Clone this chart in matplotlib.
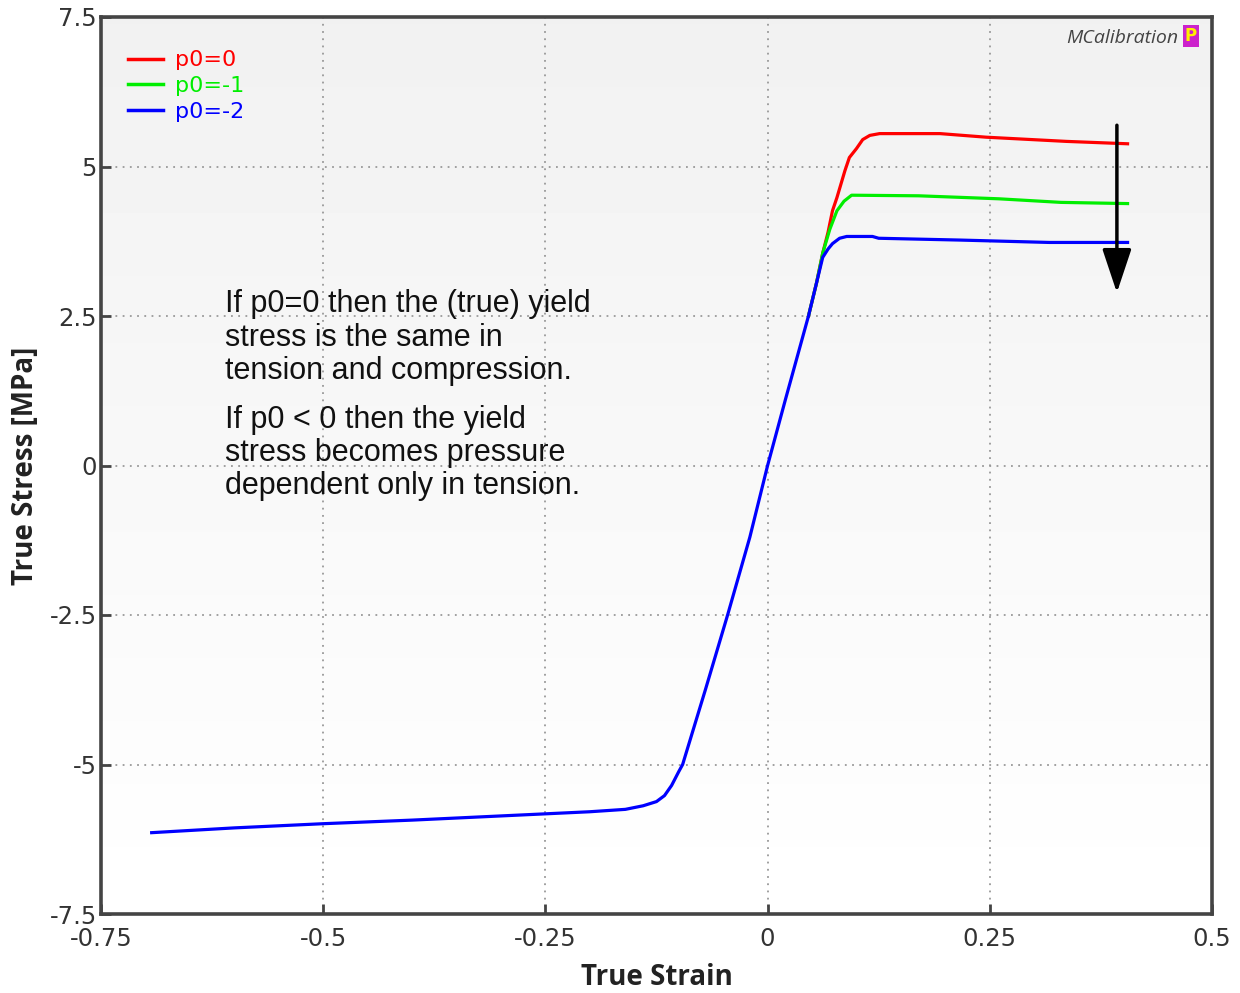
import numpy as np
import matplotlib
matplotlib.use('Agg')
import matplotlib.pyplot as plt

# curve data
strain_blue = [-0.693, -0.6, -0.5, -0.4, -0.3, -0.2, -0.16, -0.14, -0.125, -0.116,
               -0.108, -0.1, -0.0956, -0.07, -0.045, -0.02, 0.0, 0.02, 0.046, 0.055,
               0.062, 0.068, 0.073, 0.081, 0.089, 0.118, 0.125, 0.216, 0.317, 0.405]
stress_blue = [-6.14, -6.06, -5.99, -5.93, -5.86, -5.79, -5.75, -5.69, -5.62, -5.52,
               -5.35, -5.12, -5.0, -3.75, -2.5, -1.2, 0.0, 1.1, 2.5, 3.05,
               3.48, 3.62, 3.71, 3.80, 3.83, 3.83, 3.80, 3.77, 3.73, 3.73]

strain_green = [0.046, 0.055, 0.062, 0.070, 0.078, 0.086, 0.0945, 0.17, 0.26, 0.33, 0.405]
stress_green = [2.5, 3.05, 3.55, 3.95, 4.26, 4.42, 4.52, 4.51, 4.46, 4.40, 4.38]

strain_red = [0.046, 0.055, 0.062, 0.068, 0.073, 0.078, 0.087, 0.092, 0.1, 0.107,
              0.115, 0.126, 0.194, 0.246, 0.336, 0.405]
stress_red = [2.5, 3.05, 3.55, 3.9, 4.26, 4.48, 4.93, 5.15, 5.30, 5.45,
              5.52, 5.55, 5.55, 5.49, 5.42, 5.38]

xticks = [-0.75, -0.5, -0.25, 0, 0.25, 0.5]
xtick_labels = ['-0.75', '-0.5', '-0.25', '0', '0.25', '0.5']
yticks = [-7.5, -5, -2.5, 0, 2.5, 5, 7.5]
ytick_labels = ['-7.5', '-5', '-2.5', '0', '2.5', '5', '7.5']

note_lines = ["If p0=0 then the (true) yield", "stress is the same in",
              "tension and compression.", "If p0 < 0 then the yield",
              "stress becomes pressure", "dependent only in tension."]

fig = plt.figure(figsize=(12.4, 9.93), dpi=100)
ax = fig.add_axes([101/1240, 79/993, 1111/1240, 897/993])

# light grey (top) to white (bottom) background
grad = np.linspace(0.945, 1.0, 256).reshape(-1, 1)
ax.imshow(grad, extent=[-0.75, 0.5, -7.5, 7.5], aspect='auto', cmap='gray',
          vmin=0, vmax=1, zorder=0, origin='upper')

ax.plot(strain_red, stress_red, color='#ff0000', lw=2.3, label='p0=0', zorder=3)
ax.plot(strain_green, stress_green, color='#00ee00', lw=2.3, label='p0=-1', zorder=3)
ax.plot(strain_blue, stress_blue, color='#0000ff', lw=2.3, label='p0=-2', zorder=4)

ax.set_xlim(-0.75, 0.5)
ax.set_ylim(-7.5, 7.5)
ax.set_xticks(xticks)
ax.set_xticklabels(xtick_labels)
ax.set_yticks(yticks)
ax.set_yticklabels(ytick_labels)
ax.tick_params(direction='in', length=7, width=2, color='#444444', labelsize=17.5,
               labelcolor='#333333')
ax.tick_params(axis='y', pad=3)
ax.tick_params(axis='x', pad=9)
ax.grid(True, linestyle=(0, (1, 3)), color='#999999', lw=1.3, zorder=1)
for s in ax.spines.values():
    s.set_color('#444444')
    s.set_linewidth(2.6)

ax.set_xlabel('True Strain', fontfamily='Open Sans', fontweight='bold', fontsize=20,
              color='#222222', labelpad=9)
ax.set_ylabel('True Stress [MPa]', fontfamily='Open Sans', fontweight='bold', fontsize=20,
              color='#222222', labelpad=7)

leg = ax.legend(loc='upper left', bbox_to_anchor=(0.006, 0.985), frameon=False,
                fontsize=16, handlelength=1.6, handletextpad=0.55, labelspacing=0.26,
                labelcolor='linecolor')
for line in leg.get_lines():
    line.set_linewidth(2.5)

# arrow showing decreasing p0
ax.annotate('', xy=(0.393, 2.89), xytext=(0.393, 5.69),
            arrowprops=dict(arrowstyle='-|>,head_length=1.35,head_width=0.45',
                            mutation_scale=20, lw=2.5, color='black',
                            shrinkA=0, shrinkB=0), zorder=5)

ax.text(-0.61, 2.95, "\n".join(note_lines[:3]), fontfamily='Liberation Sans',
        fontsize=22, va='top', ha='left', linespacing=1.16, color='#111111', zorder=5)
ax.text(-0.61, 1.02, "\n".join(note_lines[3:]), fontfamily='Liberation Sans',
        fontsize=22, va='top', ha='left', linespacing=1.14, color='#111111', zorder=5)

# watermark
fig.text(1178/1240, 1 - 38/993, 'MCalibration', fontfamily='Open Sans', style='italic',
         fontsize=14, color='#444444', ha='right', va='center')
fig.text(1191/1240, 1 - 36/993, 'P', fontfamily='DejaVu Sans', fontweight='bold',
         fontsize=12, color='#ffee00', ha='center', va='center',
         bbox=dict(boxstyle='square,pad=0.12', fc='#cc22cc', ec='none'))

fig.savefig('out.png', dpi=100)
